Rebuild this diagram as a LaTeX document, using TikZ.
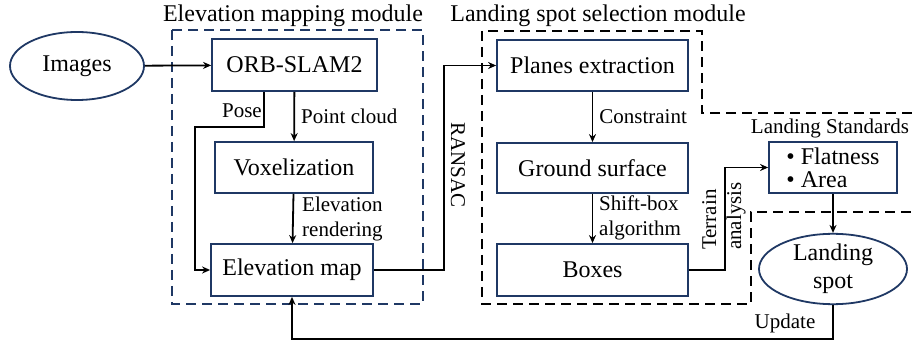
\documentclass[tikz,border=0pt]{standalone}
\usepackage{fontspec}
\setmainfont{Liberation Serif}
\usetikzlibrary{arrows.meta,shapes.geometric}
\definecolor{navy}{HTML}{1F3864}
\begin{document}
\begin{tikzpicture}[x=1pt,y=-1pt,
  box/.style={draw=navy,line width=1.8pt,inner sep=0pt,font=\fontsize{24}{23}\selectfont},
  oval/.style={ellipse,draw=navy,line width=1.8pt,inner sep=0pt,align=center,font=\fontsize{24}{28}\selectfont},
  lab/.style={inner sep=0pt,font=\fontsize{21}{25}\selectfont},
  ttl/.style={inner sep=0pt,font=\fontsize{24}{28}\selectfont},
  arr/.style={line width=1.8pt,-{Stealth[length=8pt,width=7pt]}},
  dashbox/.style={line width=2.8pt,dash pattern=on 10pt off 6pt}]
\useasboundingbox (0,0) rectangle (912,344);
% titles
\node[ttl] (t1) at (293,16) {Elevation mapping module};
\node[ttl] (t2) at (598,16) {Landing spot selection module};
% module frames
\draw[dashbox,navy] (172,30) rectangle (423,304);
\draw[dashbox,black] (912,113) -- (702,113) -- (702,31) -- (482,31) -- (482,304) -- (751,304) -- (751,212) -- (912,212);
% nodes
\node[oval,minimum width=134,minimum height=68] (img) at (77,66) {Images};
\node[box,minimum width=165,minimum height=52] (orb) at (294.5,65) {ORB-SLAM2};
\node[box,minimum width=158,minimum height=51] (vox) at (294,167.5) {Voxelization};
\node[box,minimum width=162,minimum height=52] (elev) at (292,270) {Elevation map};
\node[box,minimum width=191,minimum height=51] (planes) at (592.5,65.5) {Planes extraction};
\node[box,minimum width=191,minimum height=50] (ground) at (592.5,168) {Ground surface};
\node[box,minimum width=191,minimum height=52] (boxes) at (592.5,270) {Boxes};
\node[ttl,font=\fontsize{21}{25}\selectfont] (stdt) at (830,128) {Landing Standards};
\node[box,minimum width=128,minimum height=51,align=left] (std) at (833,167.5) {\textbullet\ Flatness\\\textbullet\ Area};
\node[oval,minimum width=148,minimum height=70] (spot) at (833,269) {Landing\\spot};
% connectors
\draw[arr] (img) -- (orb);
\draw[arr] (orb) -- (vox) node[lab,midway,right=6pt] {Point cloud};
\draw[arr] ([xshift=-30.5pt]orb.south) |- (195,127) |- (elev.west);
\node[lab,anchor=east] (pose) at (262,111) {Pose};
\draw[arr] (vox) -- (elev);
\node[lab,anchor=west,align=left] (rend) at (302,219) {Elevation\\rendering};
\draw[arr] (elev.east) -| ([xshift=-52pt]planes.west) -- (planes.west);
\node[lab,rotate=-90] (ransac) at (458,165) {RANSAC};
\draw[arr] (planes) -- (ground) node[lab,midway,right=6pt] {Constraint};
\draw[arr] (ground) -- (boxes);
\node[lab,anchor=west,align=left] (shift) at (599,218) {Shift-box\\algorithm};
\draw[arr] (boxes.east) -| ([xshift=-43pt]std.west) -- (std.west);
\node[lab,rotate=90,align=left] (terrain) at (724,216) {Terrain\\analysis};
\draw[arr] (std) -- (spot);
\draw[arr] (spot.south) -- ++(0,34) -| (elev.south);
\node[lab] (upd) at (785,323) {Update};
\end{tikzpicture}
\end{document}
